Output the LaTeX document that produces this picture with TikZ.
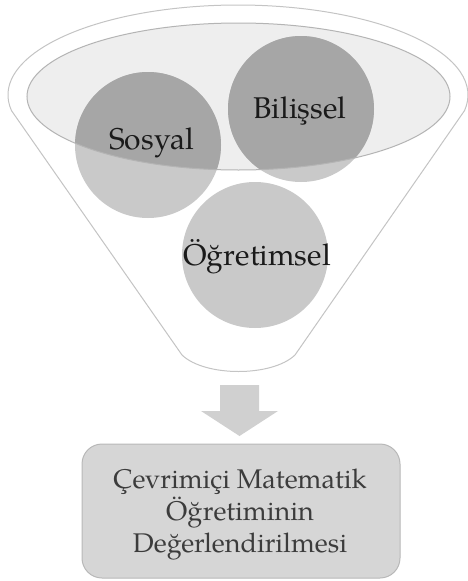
\documentclass[tikz,border=0pt]{standalone}
\usepackage{fontspec}
\setmainfont{texgyrepagella-regular.otf}
\definecolor{funnelline}{HTML}{C4C4C4}
\definecolor{ellfill}{HTML}{EEEEEE}
\definecolor{ellline}{HTML}{B4B4B4}
\definecolor{circlight}{HTML}{C9C9C9}
\definecolor{circdark}{HTML}{A6A6A6}
\definecolor{arrowgray}{HTML}{D0D0D0}
\definecolor{boxfill}{HTML}{D6D6D6}
\definecolor{boxline}{HTML}{B8B8B8}
\definecolor{boxtext}{HTML}{3C3C3C}
\definecolor{circtext}{HTML}{1A1A1A}
\tikzset{
  circtxt/.style={anchor=base, inner sep=0pt, text=circtext, font=\fontsize{30}{34}\selectfont},
  boxtxt/.style={anchor=base, inner sep=0pt, align=center, text=boxtext, font=\fontsize{27}{32}\selectfont}
}
\begin{document}
\begin{tikzpicture}[x=1pt,y=1pt]
\useasboundingbox (0,0) rectangle (467,-581);
% funnel outline
\draw[funnelline, line width=1pt, fill=white]
  (238,-95) ++(190:230 and 90) arc[start angle=190, end angle=-10, x radius=230, y radius=90]
  -- (295,-355) .. controls (272,-377) and (205,-377) .. (182,-355) -- cycle;
% inner ellipse fill
\fill[ellfill] (238.5,-96.5) ellipse[x radius=211.5, y radius=73.5];
% circles
\fill[circlight] (148,-145) circle[radius=73];
\fill[circlight] (301,-109) circle[radius=73];
\fill[circlight] (255,-255) circle[radius=73];
\begin{scope}
  \clip (238.5,-96.5) ellipse[x radius=211.5, y radius=73.5];
  \fill[circdark] (148,-145) circle[radius=73];
  \fill[circdark] (301,-109) circle[radius=73];
\end{scope}
\draw[ellline, line width=1pt] (238.5,-96.5) ellipse[x radius=211.5, y radius=73.5];
% texts
\node[circtxt] (sosyal) at (151.5,-149) {Sosyal};
\node[circtxt] (bilissel) at (300,-118) {Bilişsel};
\node[circtxt] (ogretimsel) at (257,-265) {Öğretimsel};
% block arrow
\fill[arrowgray] (220,-385) -- (259,-385) -- (259,-411) -- (278,-411) -- (239.5,-436)
  -- (201,-411) -- (220,-411) -- cycle;
% result box
\draw[boxline, fill=boxfill, line width=1pt, rounded corners=20pt] (82,-444) rectangle (400,-578);
\node[boxtxt] (sonuc) at (240,-552) {Çevrimiçi Matematik\\Öğretiminin\\Değerlendirilmesi};
\end{tikzpicture}
\end{document}
